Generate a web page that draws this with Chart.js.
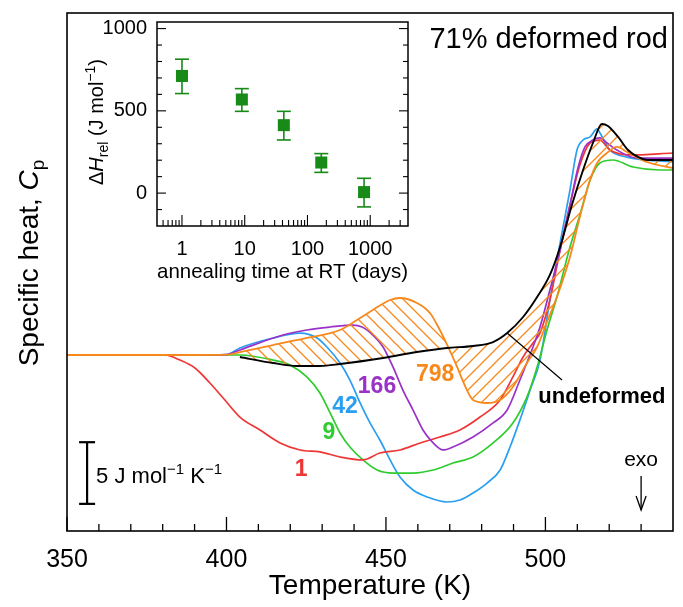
<!DOCTYPE html>
<html><head><meta charset="utf-8">
<script src="https://cdn.jsdelivr.net/npm/chart.js@4.4.1/dist/chart.umd.min.js"></script>
<style>
html,body{margin:0;padding:0;background:#fff;}
#wrap{position:relative;width:683px;height:607px;}
canvas{position:absolute;left:0;top:0;}
</style></head><body>
<div id="wrap"><canvas id="main" width="683" height="607" style="width:683px;height:607px"></canvas><canvas id="inset" width="683" height="607" style="width:683px;height:607px"></canvas></div>
<script>
// ---------------- DATA ----------------
const T_UNDEF = [404.2, 414.6, 422.1, 429.3, 435.6, 449.1, 459.7, 469.1, 477.3, 483.6, 488.0, 493.0, 497.4, 501.4, 504.6, 508.3, 511.8, 514.9, 517.7, 519.6, 522.8, 525.9, 529.0, 532.2, 535.9, 540];
const CP_UNDEF = [14.11, 13.62, 13.38, 13.38, 13.54, 14.03, 14.51, 14.84, 15.00, 15.32, 16.05, 17.35, 18.97, 20.76, 23.03, 26.43, 29.27, 31.46, 33.00, 32.84, 31.95, 30.89, 30.33, 30.08, 30.08, 30.08];

const T_798 = [350, 370, 390, 400, 404.2, 414.6, 425.2, 435.6, 440.9, 445.9, 451.3, 454.4, 459.7, 463.8, 466.9, 469.5, 472.3, 475.4, 477.3, 481.7, 485.8, 489.8, 494.2, 497.4, 500.5, 503.6, 507.7, 510.8, 514.0, 516.2, 519.3, 522.4, 525.6, 531.8, 540];
const CP_798 = [14.27, 14.27, 14.27, 14.30, 14.51, 15.08, 15.65, 16.30, 17.11, 17.92, 18.73, 18.89, 18.49, 17.68, 16.30, 14.92, 13.30, 11.43, 10.62, 10.38, 10.62, 11.68, 13.62, 14.92, 16.95, 18.97, 22.22, 25.46, 28.46, 29.84, 30.65, 31.14, 30.73, 29.92, 29.43];

const T_166 = [350, 370, 390, 400, 404.2, 417.7, 425.2, 432.5, 439.7, 442.5, 445.9, 449.1, 452.2, 455.3, 458.5, 461.6, 464.8, 467.9, 471.0, 477.3, 483.6, 488.0, 492.0, 496.1, 498.3, 501.4, 504.6, 507.7, 510.2, 512.4, 514.9, 517.1, 519.3, 522.4, 528.7, 540];
const CP_166 = [14.27, 14.27, 14.27, 14.30, 14.68, 15.89, 16.30, 16.54, 16.70, 16.54, 15.89, 14.92, 13.30, 11.43, 9.81, 8.19, 7.14, 6.57, 6.81, 7.62, 8.76, 9.81, 12.24, 14.92, 16.54, 19.54, 22.78, 26.43, 29.43, 31.14, 31.70, 31.87, 31.46, 30.89, 30.24, 30.24];

const T_42 = [350, 370, 390, 400, 404.2, 414.6, 423.1, 428.4, 431.5, 435.6, 438.7, 441.9, 445.0, 448.1, 451.3, 454.4, 458.5, 462.9, 469.1, 473.2, 477.3, 481.7, 485.8, 488.9, 492.0, 495.2, 498.3, 501.4, 504.6, 507.7, 509.9, 511.8, 514.0, 516.2, 517.1, 520.2, 525.6, 540];
const CP_42 = [14.27, 14.27, 14.27, 14.30, 14.84, 15.65, 16.05, 15.65, 14.92, 13.62, 12.24, 10.38, 8.76, 7.38, 5.76, 4.38, 3.32, 2.76, 2.35, 2.51, 3.08, 3.89, 4.95, 6.81, 9.00, 11.43, 13.86, 18.73, 23.35, 27.65, 30.89, 31.70, 31.95, 32.60, 32.27, 30.89, 30.32, 29.92];

const T_9 = [350, 370, 390, 400, 404.2, 414.6, 419.9, 425.2, 429.3, 432.5, 435.6, 438.7, 442.8, 447.2, 452.2, 458.5, 464.8, 471.0, 477.3, 483.6, 489.8, 494.2, 497.4, 500.5, 503.6, 507.7, 510.8, 514.0, 517.1, 521.2, 527.5, 535.9, 540];
const CP_9 = [14.27, 14.27, 14.27, 14.27, 14.27, 13.86, 13.46, 12.49, 11.19, 9.57, 7.95, 6.81, 5.76, 4.95, 4.70, 4.70, 4.95, 5.51, 6.00, 7.14, 8.76, 10.86, 13.30, 16.30, 18.97, 23.03, 25.62, 28.46, 29.84, 30.08, 29.51, 29.27, 29.27];

const T_1 = [350, 370, 380.7, 385.4, 390.1, 394.8, 399.5, 404.2, 410.5, 416.8, 423.1, 429.3, 435.6, 442.8, 448.1, 454.4, 460.7, 466.9, 473.2, 479.5, 485.8, 489.8, 493.0, 496.1, 498.3, 501.4, 504.6, 507.7, 510.8, 514.0, 517.1, 520.2, 526.5, 540];
const CP_1 = [14.27, 14.27, 14.27, 13.86, 13.22, 12.00, 10.62, 9.24, 8.19, 7.14, 6.57, 6.41, 6.00, 5.76, 6.32, 6.57, 7.14, 7.62, 8.19, 9.24, 10.62, 12.49, 14.11, 15.24, 16.05, 18.73, 22.78, 26.43, 29.68, 31.46, 31.70, 30.89, 30.49, 30.65];

// inset: released enthalpy vs annealing time
const INSET_DAYS = [1, 9, 42, 166, 798];
const INSET_DH = [712, 569, 413, 186, 6];
const INSET_DH_LOW = [605, 497, 323, 126, -84];
const INSET_DH_HIGH = [814, 635, 497, 240, 90];

// ticks
const X_LABEL_TICKS = [350, 400, 450, 500];
const X_MINOR_TICKS = [360, 370, 380, 390, 410, 420, 430, 440, 460, 470, 480, 490, 510, 520, 530];
const INSET_X_LABEL_TICKS = [1, 10, 100, 1000];
const INSET_Y_LABEL_TICKS = [0, 500, 1000];
const INSET_Y_MINOR_TICKS = [-100, 100, 200, 300, 400, 600, 700, 800, 900];

// ---------------- STYLE ----------------
const FONT = "'Liberation Sans', Arial, Helvetica, sans-serif";
const C_BLACK = '#000000', C_RED = '#ef3636', C_GREEN = '#2fcc2f', C_BLUE = '#2a9ff0', C_PURPLE = '#9a32c8', C_ORANGE = '#f7891c', C_INSET = '#178a17';

function pts(T, C) { return T.map((t, i) => ({x: t, y: C[i]})); }
function font(size, style, weight) { return (style || 'normal') + ' ' + (weight || 'normal') + ' ' + size + 'px ' + FONT; }

function hatch(dir) {
  const s = 13, c = document.createElement('canvas');
  c.width = s; c.height = s;
  const g = c.getContext('2d');
  g.strokeStyle = C_ORANGE; g.lineWidth = 1.3; g.beginPath();
  if (dir === '/') {
    g.moveTo(-1, s + 1); g.lineTo(s + 1, -1);
    g.moveTo(-1, 1); g.lineTo(1, -1);
    g.moveTo(s - 1, s + 1); g.lineTo(s + 1, s - 1);
  } else {
    g.moveTo(-1, -1); g.lineTo(s + 1, s + 1);
    g.moveTo(s - 1, -1); g.lineTo(s + 1, 1);
    g.moveTo(-1, s - 1); g.lineTo(1, s + 1);
  }
  g.stroke();
  return document.getElementById('main').getContext('2d').createPattern(c, 'repeat');
}

function drawRich(ctx, segs, x, y, angle, align) {
  ctx.save();
  ctx.translate(x, y); ctx.rotate(angle);
  let w = 0;
  const ws = segs.map(s => { ctx.font = s.font; const m = ctx.measureText(s.t).width; w += m; return m; });
  let cx = align === 'center' ? -w / 2 : 0;
  ctx.textAlign = 'left'; ctx.textBaseline = 'alphabetic';
  segs.forEach((s, i) => { ctx.font = s.font; ctx.fillStyle = s.color || '#000'; ctx.fillText(s.t, cx, s.dy || 0); cx += ws[i]; });
  ctx.restore();
}

function line(ctx, x1, y1, x2, y2) { ctx.beginPath(); ctx.moveTo(x1, y1); ctx.lineTo(x2, y2); ctx.stroke(); }

// ---------------- MAIN CHART ----------------
const CURVE_LABELS = [
  {t: '1', c: C_RED, T: 423.4, y: 4.95},
  {t: '9', c: C_GREEN, T: 432.1, y: 7.95},
  {t: '42', c: C_BLUE, T: 437.2, y: 10.05},
  {t: '166', c: C_PURPLE, T: 447.2, y: 11.68},
  {t: '798', c: C_ORANGE, T: 465.4, y: 12.65},
  {t: 'undeformed', c: C_BLACK, T: 517.7, y: 10.86}
];

const mainDecor = {
  id: 'mainDecor',
  afterDatasetsDraw(chart) {
    const {ctx, chartArea: a, scales: {x, y}} = chart;
    ctx.save();
    ctx.strokeStyle = '#000'; ctx.lineWidth = 1.6;
    ctx.strokeRect(a.left, a.top, a.right - a.left, a.bottom - a.top);
    ctx.lineWidth = 1.3;
    X_LABEL_TICKS.forEach(v => { const p = x.getPixelForValue(v); line(ctx, p, a.bottom, p, a.bottom - 14); });
    X_MINOR_TICKS.forEach(v => { const p = x.getPixelForValue(v); line(ctx, p, a.bottom, p, a.bottom - 7); });
    // curve labels
    ctx.textAlign = 'center'; ctx.textBaseline = 'middle';
    CURVE_LABELS.forEach(l => {
      ctx.font = font(l.t.length > 3 ? 22 : 23, 'normal', 'bold');
      ctx.fillStyle = l.c;
      ctx.fillText(l.t, x.getPixelForValue(l.T), y.getPixelForValue(l.y));
    });
    // leader line to "undeformed"
    ctx.lineWidth = 1.2; ctx.strokeStyle = '#000';
    line(ctx, x.getPixelForValue(488.0), y.getPixelForValue(16.05), x.getPixelForValue(505.2), y.getPixelForValue(12.24));
    // title
    ctx.font = font(29); ctx.fillStyle = '#000'; ctx.textAlign = 'right'; ctx.textBaseline = 'alphabetic';
    ctx.fillText('71% deformed rod', a.right - 5, a.top + 35);
    // exo arrow
    const ex = x.getPixelForValue(530);
    ctx.font = font(21); ctx.textAlign = 'center'; ctx.textBaseline = 'middle';
    ctx.fillText('exo', ex, y.getPixelForValue(5.76));
    const ya = y.getPixelForValue(4.46), yb = y.getPixelForValue(1.70);
    ctx.lineWidth = 1.3;
    line(ctx, ex, ya, ex, yb);
    ctx.beginPath(); ctx.moveTo(ex - 5, yb - 14); ctx.lineTo(ex, yb); ctx.lineTo(ex + 5, yb - 14); ctx.stroke();
    // scale bar: 5 J mol-1 K-1
    const sx = x.getPixelForValue(356.3), s1 = y.getPixelForValue(2.2), s2 = y.getPixelForValue(7.2);
    ctx.lineWidth = 2.2;
    line(ctx, sx, s1, sx, s2);
    line(ctx, sx - 8, s1, sx + 8, s1);
    line(ctx, sx - 8, s2, sx + 8, s2);
    drawRich(ctx, [
      {t: '5 J mol', font: font(22)},
      {t: '\u22121', font: font(15), dy: -9},
      {t: ' K', font: font(22)},
      {t: '\u22121', font: font(15), dy: -9}
    ], sx + 9, y.getPixelForValue(3.9), 0, 'left');
    ctx.restore();
  },
  afterDraw(chart) {
    const ctx = chart.ctx;
    drawRich(ctx, [
      {t: 'Specific heat, ', font: font(28)},
      {t: 'C', font: font(28, 'italic')},
      {t: 'p', font: font(19), dy: 6}
    ], 38, 263, -Math.PI / 2, 'center');
  }
};

const mainChart = new Chart(document.getElementById('main'), {
  type: 'line',
  data: {
    datasets: [
      {label: 'undeformed', data: pts(T_UNDEF, CP_UNDEF), borderColor: C_BLACK, borderWidth: 1.9},
      {label: '798', data: pts(T_798, CP_798), borderColor: C_ORANGE, borderWidth: 1.8,
        fill: {target: 0, above: hatch('\\'), below: hatch('/')}},
      {label: '166', data: pts(T_166, CP_166), borderColor: C_PURPLE, borderWidth: 1.7},
      {label: '1', data: pts(T_1, CP_1), borderColor: C_RED, borderWidth: 1.7},
      {label: '9', data: pts(T_9, CP_9), borderColor: C_GREEN, borderWidth: 1.7},
      {label: '42', data: pts(T_42, CP_42), borderColor: C_BLUE, borderWidth: 1.7}
    ]
  },
  options: {
    responsive: false, animation: false, events: [],
    elements: {point: {radius: 0}, line: {cubicInterpolationMode: 'monotone'}},
    layout: {padding: {left: 67, right: 10, top: 13, bottom: 0}},
    plugins: {legend: {display: false}, tooltip: {enabled: false}, filler: {propagate: false}},
    scales: {
      x: {
        type: 'linear', min: 350, max: 540,
        afterBuildTicks: s => { s.ticks = X_LABEL_TICKS.map(v => ({value: v})); },
        afterFit: s => { s.height = 76; },
        ticks: {autoSkip: false, maxRotation: 0, padding: 14, color: '#000', font: {family: FONT, size: 25}, callback: v => String(v)},
        grid: {display: false, drawTicks: false}, border: {display: false},
        title: {display: true, text: 'Temperature (K)', color: '#000', font: {family: FONT, size: 28}, padding: {top: 0, bottom: 4}}
      },
      y: {type: 'linear', display: false, min: 0, max: 42}
    }
  },
  plugins: [mainDecor]
});

// ---------------- INSET CHART ----------------
const insetDecor = {
  id: 'insetDecor',
  beforeDatasetsDraw(chart) {
    const {ctx, scales: {x, y}} = chart;
    ctx.save();
    ctx.strokeStyle = C_INSET; ctx.lineWidth = 1.6;
    INSET_DAYS.forEach((d, i) => {
      const px = x.getPixelForValue(d), lo = y.getPixelForValue(INSET_DH_LOW[i]), hi = y.getPixelForValue(INSET_DH_HIGH[i]);
      line(ctx, px, lo, px, hi);
      line(ctx, px - 7, lo, px + 7, lo);
      line(ctx, px - 7, hi, px + 7, hi);
    });
    ctx.restore();
  },
  afterDatasetsDraw(chart) {
    const {ctx, chartArea: a, scales: {x, y}} = chart;
    ctx.save();
    ctx.strokeStyle = '#000'; ctx.lineWidth = 1.5;
    ctx.strokeRect(a.left, a.top, a.right - a.left, a.bottom - a.top);
    ctx.lineWidth = 1.1;
    INSET_Y_LABEL_TICKS.forEach(v => { const p = y.getPixelForValue(v); line(ctx, a.left, p, a.left + 9, p); line(ctx, a.right, p, a.right - 9, p); });
    INSET_Y_MINOR_TICKS.forEach(v => { const p = y.getPixelForValue(v); line(ctx, a.left, p, a.left + 5, p); line(ctx, a.right, p, a.right - 5, p); });
    INSET_X_LABEL_TICKS.forEach(v => { const p = x.getPixelForValue(v); line(ctx, p, a.bottom, p, a.bottom - 11); });
    [0.1, 1, 10, 100, 1000].forEach(dec => {
      for (let k = 2; k <= 9; k++) {
        const v = k * dec;
        if (v <= x.min || v >= x.max) continue;
        const p = x.getPixelForValue(v); line(ctx, p, a.bottom, p, a.bottom - 6);
      }
    });
    ctx.restore();
  },
  afterDraw(chart) {
    drawRich(chart.ctx, [
      {t: '\u0394', font: font(20)},
      {t: 'H', font: font(20, 'italic')},
      {t: 'rel', font: font(14), dy: 5},
      {t: ' (J mol', font: font(20)},
      {t: '\u22121', font: font(14), dy: -8},
      {t: ')', font: font(20)}
    ], 103, 122, -Math.PI / 2, 'center');
  }
};

const insetChart = new Chart(document.getElementById('inset'), {
  type: 'scatter',
  data: {
    datasets: [{
      label: 'dH', data: pts(INSET_DAYS, INSET_DH),
      pointStyle: 'rect', pointRadius: 8.5, backgroundColor: C_INSET, borderColor: C_INSET, borderWidth: 0
    }]
  },
  options: {
    responsive: false, animation: false, events: [],
    layout: {padding: {left: 97, right: 275, top: 20, bottom: 317}},
    plugins: {legend: {display: false}, tooltip: {enabled: false}},
    scales: {
      x: {
        type: 'logarithmic', min: 0.4, max: 4000,
        afterBuildTicks: s => { s.ticks = INSET_X_LABEL_TICKS.map(v => ({value: v})); },
        afterFit: s => { s.height = 64; },
        ticks: {autoSkip: false, maxRotation: 0, padding: 11, color: '#000', font: {family: FONT, size: 20}, callback: v => String(v)},
        grid: {display: false, drawTicks: false}, border: {display: false},
        title: {display: true, text: 'annealing time at RT (days)', color: '#000', font: {family: FONT, size: 21}, padding: {top: 0, bottom: 5}}
      },
      y: {
        type: 'linear', min: -200, max: 1040,
        afterBuildTicks: s => { s.ticks = INSET_Y_LABEL_TICKS.map(v => ({value: v})); },
        afterFit: s => { s.width = 60; },
        ticks: {padding: 10, color: '#000', font: {family: FONT, size: 20}, callback: v => String(v)},
        grid: {display: false, drawTicks: false}, border: {display: false}
      }
    }
  },
  plugins: [insetDecor]
});
</script>
</body></html>
